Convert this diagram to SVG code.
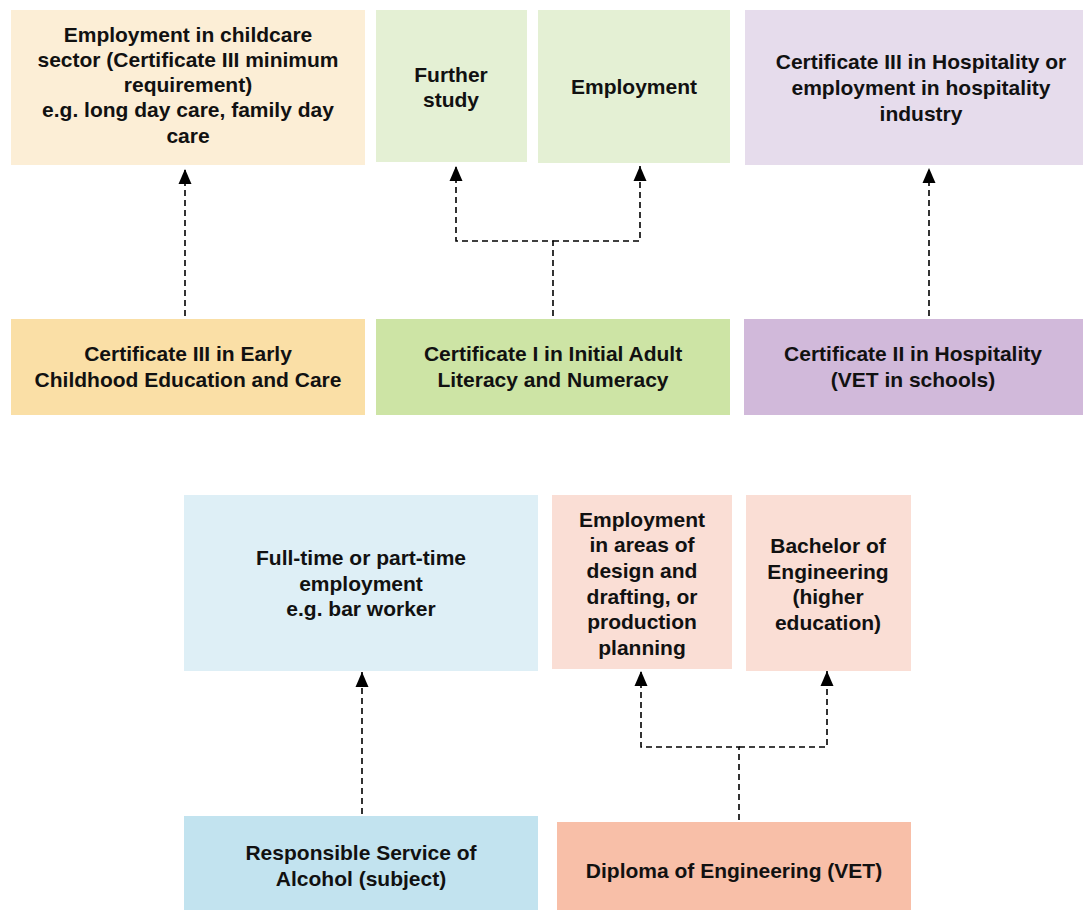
<svg xmlns="http://www.w3.org/2000/svg" width="1083" height="910" viewBox="0 0 1083 910">
<style>
text{font-family:"Liberation Sans",Arial,sans-serif;font-weight:bold;font-size:21px;fill:#111;text-anchor:middle}
.c{fill:none;stroke:#000;stroke-width:1.6;stroke-dasharray:6 4}
</style>
<defs>
<marker id="ah" markerUnits="userSpaceOnUse" markerWidth="16" markerHeight="14" refX="15" refY="7" orient="auto" viewBox="0 0 16 14">
<path d="M0 0.5 L15 7 L0 13.5 Z" fill="#000"/>
</marker>
</defs>
<rect width="1083" height="910" fill="#fff"/>
<g id="n-childcare-emp"><rect x="11" y="10" width="354" height="155" fill="#FCEED6"/>
<text x="188" y="42">Employment in childcare</text><text x="188" y="67">sector (Certificate III minimum</text><text x="188" y="92">requirement)</text><text x="188" y="117">e.g. long day care, family day</text><text x="188" y="143">care</text></g>
<g id="n-further"><rect x="376" y="10" width="151" height="152" fill="#E4F0D4"/>
<text x="451" y="82">Further</text><text x="451" y="107">study</text></g>
<g id="n-emp"><rect x="538" y="10" width="192" height="153" fill="#E4F0D4"/>
<text x="634" y="94">Employment</text></g>
<g id="n-hosp3"><rect x="745" y="10" width="338" height="155" fill="#E6DCEC"/>
<text x="921" y="69">Certificate III in Hospitality or</text><text x="921" y="95">employment in hospitality</text><text x="921" y="121">industry</text></g>
<g id="n-ecec"><rect x="11" y="319" width="354" height="96" fill="#FADFA6"/>
<text x="188" y="361">Certificate III in Early</text><text x="188" y="387">Childhood Education and Care</text></g>
<g id="n-cert1"><rect x="376" y="319" width="354" height="96" fill="#CDE4A5"/>
<text x="553" y="361">Certificate I in Initial Adult</text><text x="553" y="387">Literacy and Numeracy</text></g>
<g id="n-hosp2"><rect x="744" y="319" width="339" height="96" fill="#D1B9DA"/>
<text x="913" y="361">Certificate II in Hospitality</text><text x="913" y="387">(VET in schools)</text></g>
<g id="n-fulltime"><rect x="184" y="495" width="354" height="176" fill="#DEEFF6"/>
<text x="361" y="565">Full-time or part-time</text><text x="361" y="591">employment</text><text x="361" y="616">e.g. bar worker</text></g>
<g id="n-design"><rect x="552" y="495" width="180" height="174" fill="#FADED5"/>
<text x="642" y="527">Employment</text><text x="642" y="552">in areas of</text><text x="642" y="578">design and</text><text x="642" y="604">drafting, or</text><text x="642" y="629">production</text><text x="642" y="655">planning</text></g>
<g id="n-bachelor"><rect x="746" y="495" width="165" height="176" fill="#FADED5"/>
<text x="828" y="553">Bachelor of</text><text x="828" y="579">Engineering</text><text x="828" y="604">(higher</text><text x="828" y="630">education)</text></g>
<g id="n-rsa"><rect x="184" y="816" width="354" height="94" fill="#C2E3EF"/>
<text x="361" y="860">Responsible Service of</text><text x="361" y="886">Alcohol (subject)</text></g>
<g id="n-diploma"><rect x="557" y="822" width="354" height="88" fill="#F8BFA8"/>
<text x="734" y="878">Diploma of Engineering (VET)</text></g>
<g id="connectors">
<path class="c" d="M185 316 V169" marker-end="url(#ah)"/>
<path class="c" d="M553 316 V241 H456 V166" marker-end="url(#ah)"/>
<path class="c" d="M553 241 H640 V166" marker-end="url(#ah)"/>
<path class="c" d="M929 316 V168" marker-end="url(#ah)"/>
<path class="c" d="M362 814 V672" marker-end="url(#ah)"/>
<path class="c" d="M739 820 V747 H641 V671" marker-end="url(#ah)"/>
<path class="c" d="M739 747 H827 V671" marker-end="url(#ah)"/>
</g>
</svg>
